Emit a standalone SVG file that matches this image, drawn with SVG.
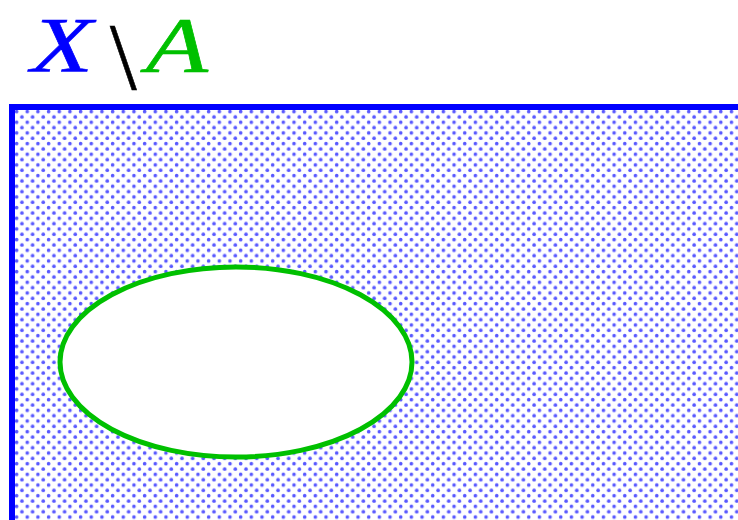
<svg xmlns="http://www.w3.org/2000/svg" width="738" height="520" viewBox="0 0 738 520">
<style>
.lbl{font-family:"Liberation Serif","DejaVu Serif",serif;font-style:italic;font-size:78px}
</style>
<defs>
<pattern id="dots" x="14" y="109" width="10.67" height="10.67" patternUnits="userSpaceOnUse">
<circle cx="2.6" cy="2.6" r="1.8" fill="#2020ff" fill-opacity="0.75"/>
<circle cx="7.93" cy="7.93" r="1.8" fill="#2020ff" fill-opacity="0.75"/>
</pattern>
</defs>
<rect width="738" height="520" fill="#fff"/>
<g id="setX">
<rect x="12" y="107" width="740" height="430" fill="url(#dots)" stroke="#0000ff" stroke-width="6"/>
</g>
<g id="setA">
<ellipse cx="236" cy="362" rx="176" ry="95" fill="#fff" stroke="#00c000" stroke-width="5"/>
</g>
<g id="title">
<text class="lbl" x="31" y="71" fill="#0000ff" textLength="62" lengthAdjust="spacingAndGlyphs" stroke="#0000ff" stroke-width="0.6">X</text>
<text x="110" y="89" font-family="Liberation Serif, serif" font-size="96" fill="#000" stroke="#000" stroke-width="0.6">\</text>
<text class="lbl" x="146" y="71" fill="#00c000" textLength="62" lengthAdjust="spacingAndGlyphs" stroke="#00c000" stroke-width="0.6">A</text>
</g>
</svg>
